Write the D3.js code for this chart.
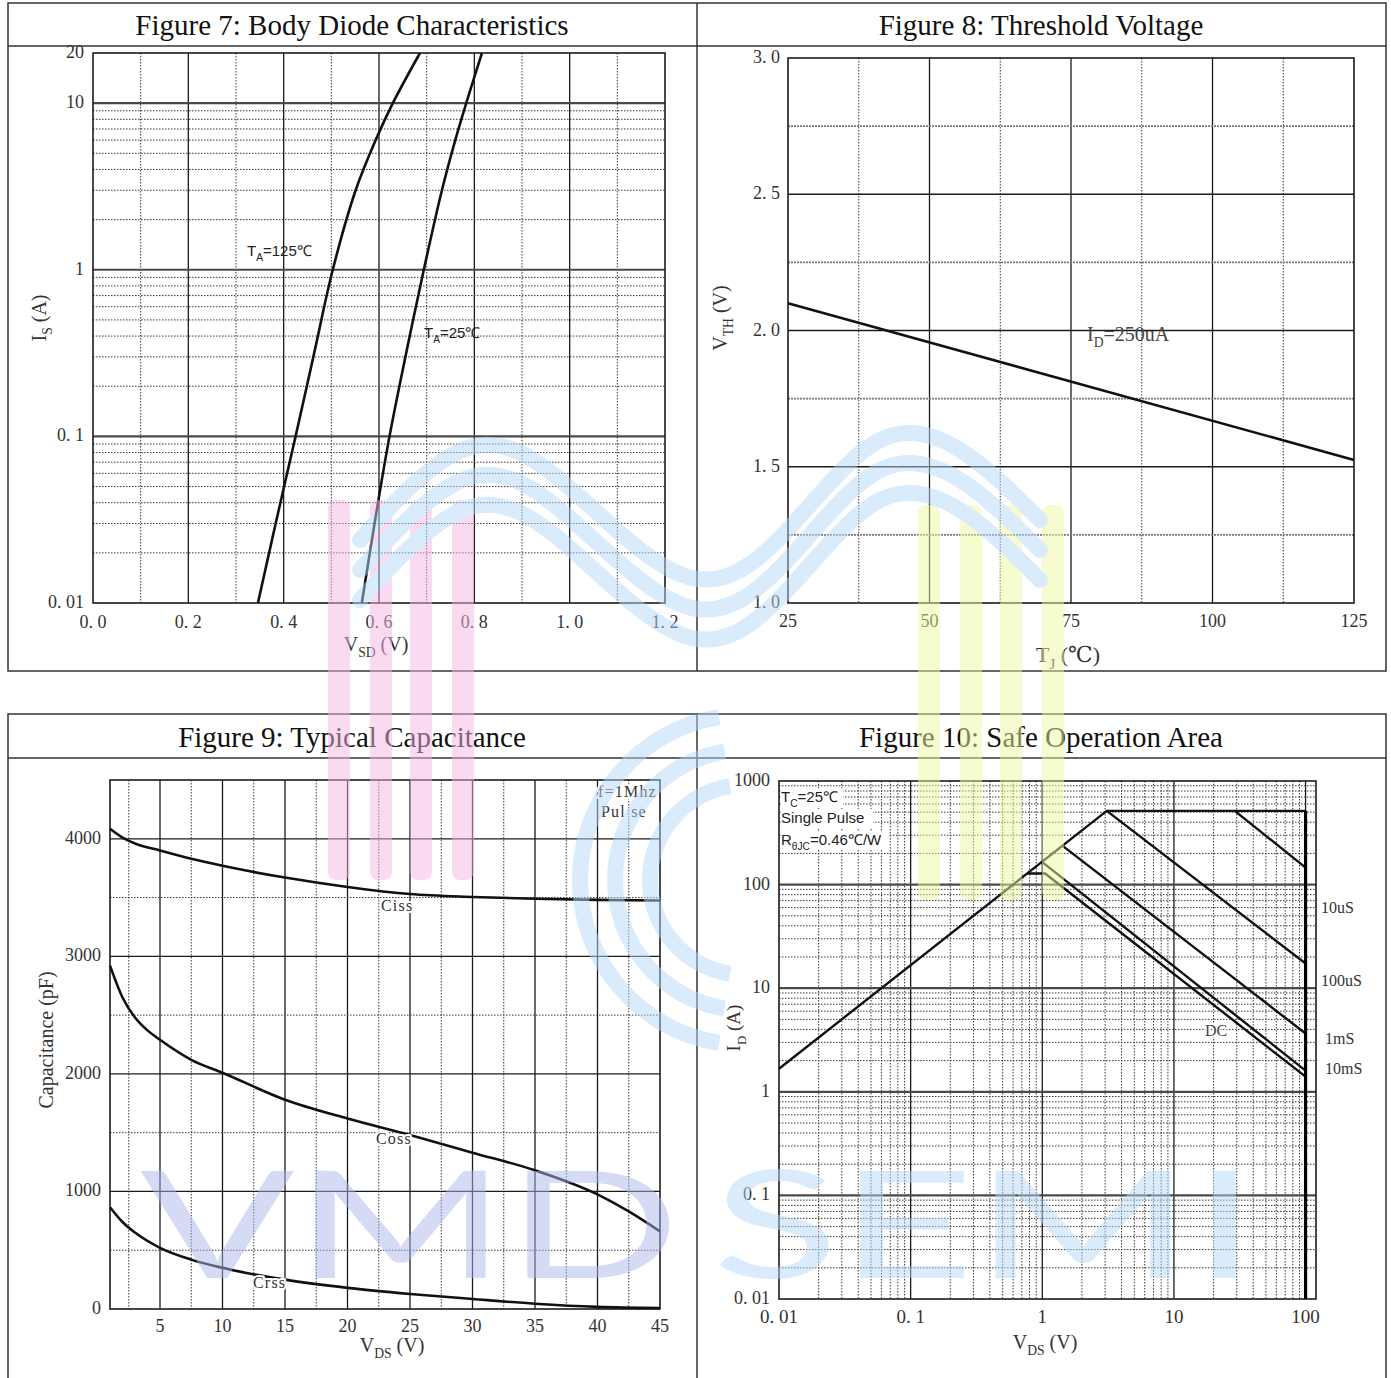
<!DOCTYPE html>
<html>
<head>
<meta charset="utf-8">
<script src="https://cdn.jsdelivr.net/npm/d3@7"></script>
<style>
  body { margin: 0; background: #fff; }
  svg { display: block; }
</style>
</head>
<body>
<svg id="sheet" width="1391" height="1378"></svg>
<script>
// ---------- Figure 7: body diode, I_S vs V_SD ----------
const diodeTickV = [0, 0.2, 0.4, 0.6, 0.8, 1.0, 1.2];
const diodeTickVText = ["0. 0", "0. 2", "0. 4", "0. 6", "0. 8", "1. 0", "1. 2"];
const diodeTickI = [20, 10, 1, 0.1, 0.01];
const diodeTickIText = ["20", "10", "1", "0. 1", "0. 01"];
const diodeV125 = [0.346, 0.385, 0.425, 0.464, 0.503, 0.551, 0.593, 0.629, 0.686];
const diodeI125 = [0.01, 0.0316, 0.1, 0.316, 1, 3, 6, 10, 20];
const diodeV25 = [0.564, 0.592, 0.622, 0.657, 0.694, 0.732, 0.760, 0.783, 0.816];
const diodeI25 = [0.01, 0.0316, 0.1, 0.316, 1, 3, 6, 10, 20];

// ---------- Figure 8: threshold voltage vs junction temperature ----------
const tempTicks = [25, 50, 75, 100, 125];
const vthTicks = [3.0, 2.5, 2.0, 1.5, 1.0];
const vthTickText = ["3. 0", "2. 5", "2. 0", "1. 5", "1. 0"];
const vthTemp = [25, 125];
const vthValue = [2.10, 1.525];

// ---------- Figure 9: capacitance vs V_DS ----------
const capTicksV = [5, 10, 15, 20, 25, 30, 35, 40, 45];
const capTicksC = [4000, 3000, 2000, 1000, 0];
const cissV = [1, 2, 3, 5, 7.5, 10, 15, 20, 25, 30, 35, 40, 45];
const cissC = [4085, 4010, 3960, 3900, 3830, 3770, 3670, 3590, 3530, 3505, 3490, 3480, 3475];
const cossV = [1, 2, 3, 4, 5, 7.5, 10, 15, 20, 25, 30, 35, 40, 42.5, 45];
const cossC = [2921, 2650, 2480, 2370, 2290, 2120, 2010, 1780, 1620, 1480, 1330, 1180, 975, 830, 660];
const crssV = [1, 2, 3, 5, 7.5, 10, 15, 20, 25, 30, 35, 40, 45];
const crssC = [866, 740, 650, 520, 420, 350, 250, 180, 128, 85, 45, 18, 8];

// ---------- Figure 10: safe operating area ----------
const soaTicksV = [0.01, 0.1, 1, 10, 100];
const soaTicksVText = ["0. 01", "0. 1", "1", "10", "100"];
const soaTicksI = [1000, 100, 10, 1, 0.1, 0.01];
const soaTicksIText = ["1000", "100", "10", "1", "0. 1", "0. 01"];
const soaLimitV = [0.01, 3.09, 100];
const soaLimitI = [1.67, 515, 515];
const soa10usV = [29, 100];
const soa10usI = [515, 146];
const soa100usV = [3.09, 100];
const soa100usI = [515, 17.3];
const soa1msV = [1.42, 100];
const soa1msI = [238, 3.65];
const soa10msV = [1.0, 100];
const soa10msI = [165, 1.6];
const soaDcV = [0.77, 1.05, 100];
const soaDcI = [128, 128, 1.4];
const soaRightLabels = ["10uS", "100uS", "1mS", "10mS"];

const svg = d3.select("#sheet");
const INK = "#1b1b1b";
const SERIF = "'Liberation Serif', 'DejaVu Serif', serif";
const SANS = "'Liberation Sans', Arial, sans-serif";

const zip = (a, b) => a.map((v, i) => [v, b[i]]);

function gridLine(g, x1, y1, x2, y2, kind) {
  const l = g.append("line").attr("x1", x1).attr("y1", y1).attr("x2", x2).attr("y2", y2);
  if (kind === "major") l.attr("stroke", INK).attr("stroke-width", 1.3);
  else if (kind === "band") l.attr("stroke", "#4a4a4a").attr("stroke-width", 2.2);
  else if (kind === "grey") l.attr("stroke", "#777").attr("stroke-width", 1.6).attr("stroke-dasharray", "2,1");
  else l.attr("stroke", "#3a3a3a").attr("stroke-width", 1).attr("stroke-dasharray", "1.5,1.5");
  return l;
}

function frame(g, x, y) {
  const [x0, x1] = x.range();
  const [y0, y1] = y.range();
  g.append("rect")
    .attr("x", Math.min(x0, x1)).attr("y", Math.min(y0, y1))
    .attr("width", Math.abs(x1 - x0)).attr("height", Math.abs(y1 - y0))
    .attr("fill", "none").attr("stroke", INK).attr("stroke-width", 1.6);
}

function tickText(g, x, y, txt, anchor, size) {
  return g.append("text").attr("x", x).attr("y", y).attr("text-anchor", anchor)
    .attr("font-family", SERIF).attr("font-size", size || 18).attr("fill", "#333").text(txt);
}

// text with subscript segments: parts = [[text, isSub], ...]
function richText(g, x, y, parts, size, opts = {}) {
  const t = g.append("text").attr("x", x).attr("y", y)
    .attr("text-anchor", opts.anchor || "middle")
    .attr("font-family", opts.family || SERIF).attr("font-size", size)
    .attr("fill", opts.fill || "#333");
  if (opts.rotate) t.attr("transform", `rotate(-90 ${x} ${y})`);
  let shifted = 0;
  parts.forEach(([s, sub]) => {
    const sp = t.append("tspan").text(s);
    const want = sub ? size * 0.3 : 0;
    if (want !== shifted) { sp.attr("dy", want - shifted); shifted = want; }
    if (sub) sp.attr("font-size", size * 0.68);
  });
  return t;
}

// ---------- sheet table ----------
const table = svg.append("g").attr("fill", "none").attr("stroke", "#333").attr("stroke-width", 1.5);
table.append("rect").attr("x", 8).attr("y", 3).attr("width", 1378).attr("height", 668);
table.append("line").attr("x1", 8).attr("x2", 1386).attr("y1", 46).attr("y2", 46);
table.append("line").attr("x1", 697).attr("x2", 697).attr("y1", 3).attr("y2", 671);
table.append("rect").attr("x", 8).attr("y", 714).attr("width", 1378).attr("height", 700);
table.append("line").attr("x1", 8).attr("x2", 1386).attr("y1", 758).attr("y2", 758);
table.append("line").attr("x1", 697).attr("x2", 697).attr("y1", 714).attr("y2", 1378);

const titles = ["Figure 7: Body Diode Characteristics", "Figure 8: Threshold Voltage",
                "Figure 9: Typical Capacitance", "Figure 10: Safe Operation Area"];
const titlePos = [[352, 35], [1041, 35], [352, 747], [1041, 747]];
titles.forEach((t, i) => {
  svg.append("text").attr("x", titlePos[i][0]).attr("y", titlePos[i][1])
    .attr("text-anchor", "middle").attr("font-family", SERIF).attr("font-size", 29)
    .attr("fill", "#111").text(t);
});

const lineGen = (x, y, curve) => d3.line().x(d => x(d[0])).y(d => y(d[1])).curve(curve || d3.curveLinear);

// ---------- Figure 7 ----------
{
  const g = svg.append("g");
  const x = d3.scaleLinear().domain([0, 1.2]).range([93, 665]);
  const y = d3.scaleLog().domain([0.01, 20]).range([603, 53]);
  for (let k = 1; k < 12; k++) {
    const v = k / 10;
    gridLine(g, x(v), y(20), x(v), y(0.01), k % 2 === 0 ? "major" : "minor");
  }
  [0.01, 0.1, 1, 10].forEach(d => {
    for (let m = 1; m <= 9; m++) {
      const v = d * m;
      if (v <= 0.01 || v >= 20) continue;
      gridLine(g, x(0), y(v), x(1.2), y(v), m === 1 ? "band" : "minor");
    }
  });
  frame(g, x, y);
  const cg = g.append("g").attr("fill", "none").attr("stroke", "#111").attr("stroke-width", 2.6);
  cg.append("path").attr("d", lineGen(x, y, d3.curveCatmullRom)(zip(diodeV125, diodeI125)));
  cg.append("path").attr("d", lineGen(x, y, d3.curveCatmullRom)(zip(diodeV25, diodeI25)));
  diodeTickV.forEach((v, i) => tickText(g, x(v), 628, diodeTickVText[i], "middle"));
  diodeTickI.forEach((v, i) => tickText(g, 84, y(v) + 5, diodeTickIText[i], "end"));
  richText(g, 247, 256, [["T", false], ["A", true], ["=125℃", false]], 15, { anchor: "start", family: SANS, fill: "#222" });
  richText(g, 424, 338, [["T", false], ["A", true], ["=25℃", false]], 15, { anchor: "start", family: SANS, fill: "#222" });
  richText(g, 46, 318, [["I", false], ["S", true], [" (A)", false]], 20, { rotate: true });
  richText(g, 376, 651, [["V", false], ["SD", true], [" (V)", false]], 20);
}

// ---------- Figure 8 ----------
{
  const g = svg.append("g");
  const x = d3.scaleLinear().domain([25, 125]).range([788, 1354]);
  const y = d3.scaleLinear().domain([1, 3]).range([603, 58]);
  for (let t = 37.5; t < 125; t += 12.5) {
    gridLine(g, x(t), y(3), x(t), y(1), (t - 25) % 25 === 0 ? "major" : "minor");
  }
  for (let v = 1.25; v < 3; v += 0.25) {
    gridLine(g, x(25), y(v), x(125), y(v), Math.abs((v * 2) % 1) < 1e-6 ? "major" : "grey");
  }
  frame(g, x, y);
  g.append("path").attr("d", lineGen(x, y)(zip(vthTemp, vthValue)))
    .attr("fill", "none").attr("stroke", "#111").attr("stroke-width", 2.6);
  tempTicks.forEach(t => tickText(g, x(t), 627, String(t), "middle"));
  vthTicks.forEach((v, i) => tickText(g, 780, y(v) + 5, vthTickText[i], "end"));
  richText(g, 1087, 341, [["I", false], ["D", true], ["=250uA", false]], 20, { anchor: "start", fill: "#444" });
  richText(g, 727, 318, [["V", false], ["TH", true], [" (V)", false]], 20, { rotate: true });
  richText(g, 1068, 662, [["T", false], ["J", true], [" (℃)", false]], 22);
}

// ---------- Figure 9 ----------
{
  const g = svg.append("g");
  const x = d3.scaleLinear().domain([1, 45]).range([110, 660]);
  const y = d3.scaleLinear().domain([0, 4500]).range([1309, 780]);
  for (let v = 2.5; v < 45; v += 2.5) {
    gridLine(g, x(v), y(4500), x(v), y(0), v % 5 === 0 ? "major" : "minor");
  }
  for (let c = 500; c < 4500; c += 500) {
    gridLine(g, x(1), y(c), x(45), y(c), c % 1000 === 0 ? "major" : "minor");
  }
  frame(g, x, y);
  const cg = g.append("g").attr("fill", "none").attr("stroke", "#111").attr("stroke-width", 2.6);
  cg.append("path").attr("d", lineGen(x, y, d3.curveMonotoneX)(zip(cissV, cissC)));
  cg.append("path").attr("d", lineGen(x, y, d3.curveMonotoneX)(zip(cossV, cossC)));
  cg.append("path").attr("d", lineGen(x, y, d3.curveMonotoneX)(zip(crssV, crssC)));
  const lbl = (xx, yy, s) => g.append("text").attr("x", xx).attr("y", yy)
    .attr("font-family", SERIF).attr("font-size", 16).attr("fill", "#333")
    .attr("letter-spacing", 1.2).attr("stroke", "#fff").attr("stroke-width", 4)
    .attr("paint-order", "stroke").text(s);
  lbl(381, 911, "Ciss");
  lbl(376, 1144, "Coss");
  lbl(253, 1288, "Crss");
  lbl(598, 797, "f=1Mhz");
  lbl(601, 817, "Pul se");
  capTicksV.forEach(v => tickText(g, x(v), 1332, String(v), "middle"));
  capTicksC.forEach(c => tickText(g, 101, y(c) + 5, String(c), "end"));
  g.append("text").attr("x", 53).attr("y", 1040).attr("text-anchor", "middle")
    .attr("transform", "rotate(-90 53 1040)").attr("font-family", SERIF)
    .attr("font-size", 20).attr("fill", "#333").text("Capacitance (pF)");
  richText(g, 392, 1352, [["V", false], ["DS", true], [" (V)", false]], 20);
}

// ---------- Figure 10 ----------
{
  const g = svg.append("g");
  const x = d3.scaleLog().domain([0.01, 120]).range([779, 1316]);
  const y = d3.scaleLog().domain([0.01, 1000]).range([1299, 781]);
  [0.01, 0.1, 1, 10, 100].forEach(d => {
    for (let m = 1; m <= 9; m++) {
      const v = d * m;
      if (v <= 0.01 || v > 120) continue;
      gridLine(g, x(v), y(1000), x(v), y(0.01), m === 1 ? "major" : "minor");
    }
  });
  [0.01, 0.1, 1, 10, 100].forEach(d => {
    for (let m = 1; m <= 9; m++) {
      const v = d * m;
      if (v <= 0.01 || v >= 1000) continue;
      gridLine(g, x(0.01), y(v), x(120), y(v), m === 1 ? "band" : "minor");
    }
  });
  frame(g, x, y);
  const cg = g.append("g").attr("fill", "none").attr("stroke", "#111").attr("stroke-width", 2.4);
  [[soaLimitV, soaLimitI], [soa10usV, soa10usI], [soa100usV, soa100usI],
   [soa1msV, soa1msI], [soa10msV, soa10msI], [soaDcV, soaDcI]]
    .forEach(([vs, is]) => cg.append("path").attr("d", lineGen(x, y)(zip(vs, is))));
  // breakdown limit at V_DS = 100 V
  g.append("line").attr("x1", x(100)).attr("x2", x(100)).attr("y1", y(515)).attr("y2", y(0.01))
    .attr("stroke", "#000").attr("stroke-width", 3.2);
  const rl = [[1321, 913], [1321, 986], [1325, 1044], [1325, 1074]];
  soaRightLabels.forEach((s, i) => tickText(g, rl[i][0], rl[i][1], s, "start", 16));
  g.append("text").attr("x", 1205).attr("y", 1036).attr("font-family", SERIF).attr("font-size", 16)
    .attr("fill", "#444").attr("stroke", "#fff").attr("stroke-width", 3).attr("paint-order", "stroke").text("DC");
  // condition box
  const box = g.append("g");
  [[781, 788, 62], [781, 809, 92], [781, 831, 108]].forEach(([bx, by, bw]) =>
    box.append("rect").attr("x", bx).attr("y", by).attr("width", bw).attr("height", 19).attr("fill", "#fff"));
  richText(box, 781, 802, [["T", false], ["C", true], ["=25℃", false]], 15, { anchor: "start", family: SANS, fill: "#222" });
  richText(box, 781, 823, [["Single Pulse", false]], 15, { anchor: "start", family: SANS, fill: "#222" });
  richText(box, 781, 845, [["R", false], ["θJC", true], ["=0.46℃/W", false]], 15, { anchor: "start", family: SANS, fill: "#222" });
  soaTicksV.forEach((v, i) => tickText(g, x(v), 1323, soaTicksVText[i], "middle", 19));
  soaTicksI.forEach((v, i) => tickText(g, 770, y(v) + 5, soaTicksIText[i], "end"));
  richText(g, 740, 1028, [["I", false], ["D", true], [" (A)", false]], 19, { rotate: true });
  richText(g, 1045, 1349, [["V", false], ["DS", true], [" (V)", false]], 20);
}

// ---------- brand watermark ----------
{
  const w = svg.append("g").attr("opacity", 0.5).style("pointer-events", "none");
  const pink = [328, 370, 410, 452];
  pink.forEach(px => w.append("rect").attr("x", px).attr("y", 500).attr("width", 22).attr("height", 380)
    .attr("rx", 8).attr("fill", "#f5b5e3"));
  const yellow = [918, 960, 1000, 1042];
  yellow.forEach(px => w.append("rect").attr("x", px).attr("y", 505).attr("width", 22).attr("height", 395)
    .attr("rx", 8).attr("fill", "#eef7a0"));
  const wave = d3.line().curve(d3.curveBasis);
  [0, 30, 60].forEach(o => {
    w.append("path").attr("d", wave([[360, 540 + o], [470, 420 + o], [560, 470 + o], [700, 620 + o],
      [800, 520 + o], [880, 420 + o], [960, 440 + o], [1040, 520 + o]]))
      .attr("fill", "none").attr("stroke", "#b5d6f6").attr("stroke-width", 16).attr("stroke-linecap", "round");
  });
  [95, 130, 165].forEach(r => {
    w.append("path").attr("d", d3.arc()({ innerRadius: r - 8, outerRadius: r + 8, startAngle: Math.PI * 1.05, endAngle: Math.PI * 1.95 }))
      .attr("transform", "translate(745 880)").attr("fill", "#b5d6f6");
  });
  w.append("text").attr("x", 140).attr("y", 1278).attr("font-family", "Lato, 'Open Sans', sans-serif")
    .attr("font-size", 150).attr("textLength", 540).attr("lengthAdjust", "spacingAndGlyphs")
    .attr("fill", "#aab4ea").text("VMD");
  w.append("text").attr("x", 712).attr("y", 1278).attr("font-family", "Lato, 'Open Sans', sans-serif")
    .attr("font-size", 150).attr("textLength", 545).attr("lengthAdjust", "spacingAndGlyphs")
    .attr("fill", "#b5d6f6").text("SEMI");
}
</script>
</body>
</html>
